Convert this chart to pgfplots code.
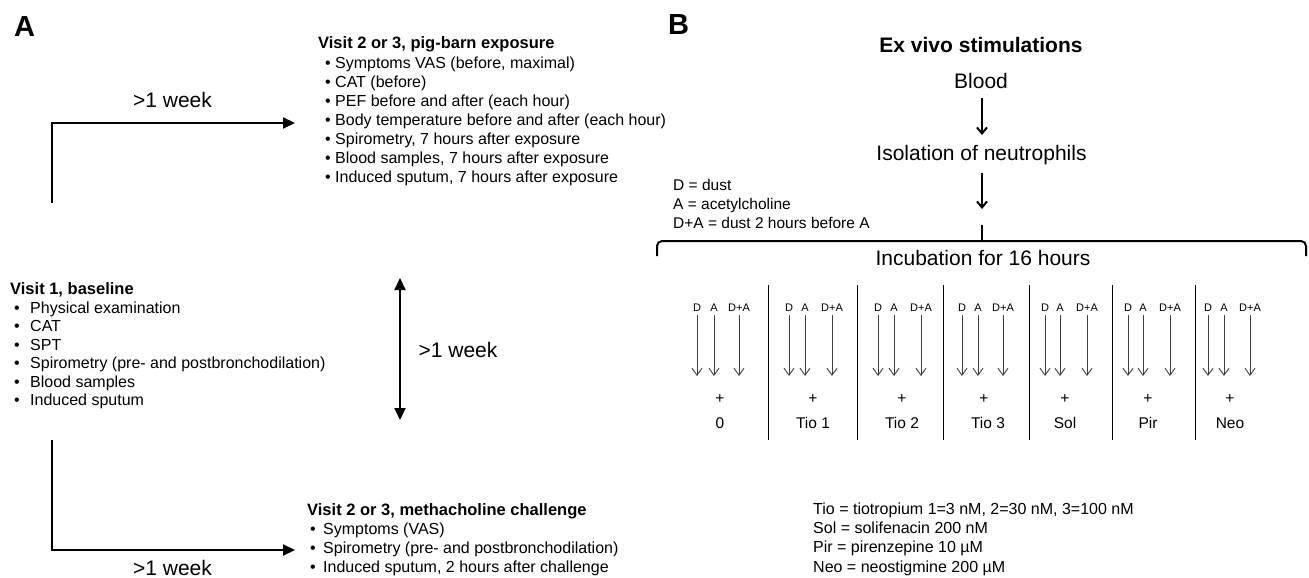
\documentclass[border=0pt]{standalone}
\usepackage{pgfplots}
\pgfplotsset{compat=1.18}
\usepackage{fontspec}
\setmainfont{Liberation Sans}
\usetikzlibrary{arrows.meta}
% text helpers: x, y (visual centre), font size, text
\newcommand{\TL}[4]{\node[anchor=base west,inner sep=0pt,yshift=-0.35*#3pt] at (axis cs:#1,#2) {\fontsize{#3}{#3}\selectfont #4};}
\newcommand{\TC}[4]{\node[anchor=base,inner sep=0pt,yshift=-0.35*#3pt] at (axis cs:#1,#2) {\fontsize{#3}{#3}\selectfont #4};}
\tikzset{
  bigarr/.style={line width=2pt,-{Triangle[length=12pt,width=11pt]}},
  barr/.style={line width=2pt,-{Straight Barb[length=6pt,width=10pt,line width=2pt]}},
  tarr/.style={line width=0.9pt,black!75,-{Straight Barb[length=7pt,width=10pt,line width=0.9pt]}},
}
\begin{document}
\begin{tikzpicture}
\begin{axis}[
  scale only axis, width=1309pt, height=578pt,
  xmin=0, xmax=1309, ymin=0, ymax=578, y dir=reverse,
  axis lines=none, ticks=none, clip=false,
]
% ---------------- Panel A ----------------
\TC{24.5}{26}{29}{\bfseries A}
\addplot[bigarr, mark=none, line join=miter] coordinates {(52,203) (52,123) (295,123)};
\TC{172.5}{100}{21}{>1 week}
\TL{318}{43}{16.5}{\bfseries Visit 2 or 3, pig-barn exposure}
\TL{325}{63}{16}{\textbullet} \TL{335}{63}{16}{Symptoms VAS (before, maximal)}
\TL{325}{82}{16}{\textbullet} \TL{335}{82}{16}{CAT (before)}
\TL{325}{101}{16}{\textbullet} \TL{335}{101}{16}{PEF before and after (each hour)}
\TL{325}{120}{16}{\textbullet} \TL{335}{120}{16}{Body temperature before and after (each hour)}
\TL{325}{139}{16}{\textbullet} \TL{335}{139}{16}{Spirometry, 7 hours after exposure}
\TL{325}{158}{16}{\textbullet} \TL{335}{158}{16}{Blood samples, 7 hours after exposure}
\TL{325}{177}{16}{\textbullet} \TL{335}{177}{16}{Induced sputum, 7 hours after exposure}

\TL{10}{289}{16.5}{\bfseries Visit 1, baseline}
\TL{14}{307.5}{16}{\textbullet} \TL{30}{307.5}{16}{Physical examination}
\TL{14}{326}{16}{\textbullet} \TL{30}{326}{16}{CAT}
\TL{14}{344.5}{16}{\textbullet} \TL{30}{344.5}{16}{SPT}
\TL{14}{363}{16}{\textbullet} \TL{30}{363}{16}{Spirometry (pre- and postbronchodilation)}
\TL{14}{381.5}{16}{\textbullet} \TL{30}{381.5}{16}{Blood samples}
\TL{14}{400}{16}{\textbullet} \TL{30}{400}{16}{Induced sputum}

\addplot[line width=2pt, mark=none, {Triangle[length=12pt,width=11pt]}-{Triangle[length=12pt,width=11pt]}] coordinates {(400,278) (400,420)};
\TC{458}{350}{21}{>1 week}

\addplot[bigarr, mark=none, line join=miter] coordinates {(52,440) (52,550) (295,550)};
\TC{172.5}{568}{21}{>1 week}
\TL{307}{510}{16.5}{\bfseries Visit 2 or 3, methacholine challenge}
\TL{310}{529}{16}{\textbullet} \TL{323}{529}{16}{Symptoms (VAS)}
\TL{310}{548}{16}{\textbullet} \TL{323}{548}{16}{Spirometry (pre- and postbronchodilation)}
\TL{310}{567}{16}{\textbullet} \TL{323}{567}{16}{Induced sputum, 2 hours after challenge}

% ---------------- Panel B ----------------
\TC{678.5}{24}{29}{\bfseries B}
\TC{981}{45}{21}{\bfseries Ex vivo stimulations}
\TC{981}{81}{21}{Blood}
\addplot[barr, mark=none] coordinates {(982,98) (982,135)};
\TC{981.5}{153}{21}{Isolation of neutrophils}
\addplot[barr, mark=none] coordinates {(982,173) (982,209)};
\TL{673}{185}{15.5}{D = dust}
\TL{673}{204}{15.5}{A = acetylcholine}
\TL{673}{223}{15.5}{D+A = dust 2 hours before A}
\addplot[line width=2pt, mark=none, rounded corners=5pt] coordinates {(657,256) (657,241) (1306,241) (1306,256)};
\addplot[line width=2pt, mark=none] coordinates {(982,225) (982,241)};
\TC{983}{258}{21}{Incubation for 16 hours}

% separators
\addplot[line width=1pt, mark=none] coordinates {(768,285) (768,440)};
\addplot[line width=1pt, mark=none] coordinates {(857,285) (857,440)};
\addplot[line width=1pt, mark=none] coordinates {(943,285) (943,440)};
\addplot[line width=1pt, mark=none] coordinates {(1029,285) (1029,440)};
\addplot[line width=1pt, mark=none] coordinates {(1112,285) (1112,440)};
\addplot[line width=1pt, mark=none] coordinates {(1195,285) (1195,440)};

% stimulation arrows
\addplot[tarr, mark=none] coordinates {(697,315) (697,376)};
\addplot[tarr, mark=none] coordinates {(714,315) (714,376)};
\addplot[tarr, mark=none] coordinates {(739,315) (739,376)};
\addplot[tarr, mark=none] coordinates {(789,315) (789,376)};
\addplot[tarr, mark=none] coordinates {(805,315) (805,376)};
\addplot[tarr, mark=none] coordinates {(832,315) (832,376)};
\addplot[tarr, mark=none] coordinates {(878,315) (878,376)};
\addplot[tarr, mark=none] coordinates {(894,315) (894,376)};
\addplot[tarr, mark=none] coordinates {(921,315) (921,376)};
\addplot[tarr, mark=none] coordinates {(962,315) (962,376)};
\addplot[tarr, mark=none] coordinates {(978,315) (978,376)};
\addplot[tarr, mark=none] coordinates {(1003,315) (1003,376)};
\addplot[tarr, mark=none] coordinates {(1045,315) (1045,376)};
\addplot[tarr, mark=none] coordinates {(1060,315) (1060,376)};
\addplot[tarr, mark=none] coordinates {(1087,315) (1087,376)};
\addplot[tarr, mark=none] coordinates {(1128,315) (1128,376)};
\addplot[tarr, mark=none] coordinates {(1143,315) (1143,376)};
\addplot[tarr, mark=none] coordinates {(1170,315) (1170,376)};
\addplot[tarr, mark=none] coordinates {(1208,315) (1208,376)};
\addplot[tarr, mark=none] coordinates {(1224,315) (1224,376)};
\addplot[tarr, mark=none] coordinates {(1250,315) (1250,376)};

\TC{697}{308}{11}{D}  \TC{714}{308}{11}{A}  \TC{739}{308}{11}{D+A}
\TC{789}{308}{11}{D}  \TC{805}{308}{11}{A}  \TC{832}{308}{11}{D+A}
\TC{878}{308}{11}{D}  \TC{894}{308}{11}{A}  \TC{921}{308}{11}{D+A}
\TC{962}{308}{11}{D}  \TC{978}{308}{11}{A}  \TC{1003}{308}{11}{D+A}
\TC{1045}{308}{11}{D} \TC{1060}{308}{11}{A} \TC{1087}{308}{11}{D+A}
\TC{1128}{308}{11}{D} \TC{1143}{308}{11}{A} \TC{1170}{308}{11}{D+A}
\TC{1208}{308}{11}{D} \TC{1224}{308}{11}{A} \TC{1250}{308}{11}{D+A}

\TC{720}{398}{15.5}{+}  \TC{720}{423}{15.5}{0}
\TC{813}{398}{15.5}{+}  \TC{813}{423}{15.5}{Tio 1}
\TC{902}{398}{15.5}{+}  \TC{902}{423}{15.5}{Tio 2}
\TC{984}{398}{15.5}{+}  \TC{988}{423}{15.5}{Tio 3}
\TC{1065}{398}{15.5}{+} \TC{1065}{423}{15.5}{Sol}
\TC{1148}{398}{15.5}{+} \TC{1148}{423}{15.5}{Pir}
\TC{1230}{398}{15.5}{+} \TC{1230}{423}{15.5}{Neo}

\TL{813}{509}{16}{Tio = tiotropium 1=3 nM, 2=30 nM, 3=100 nM}
\TL{813}{528}{16}{Sol = solifenacin 200 nM}
\TL{813}{547}{16}{Pir = pirenzepine 10 µM}
\TL{813}{567}{16}{Neo = neostigmine 200 µM}
\end{axis}
\pgfresetboundingbox
\useasboundingbox (0,0) rectangle (1309pt,578pt);
\end{tikzpicture}
\end{document}
